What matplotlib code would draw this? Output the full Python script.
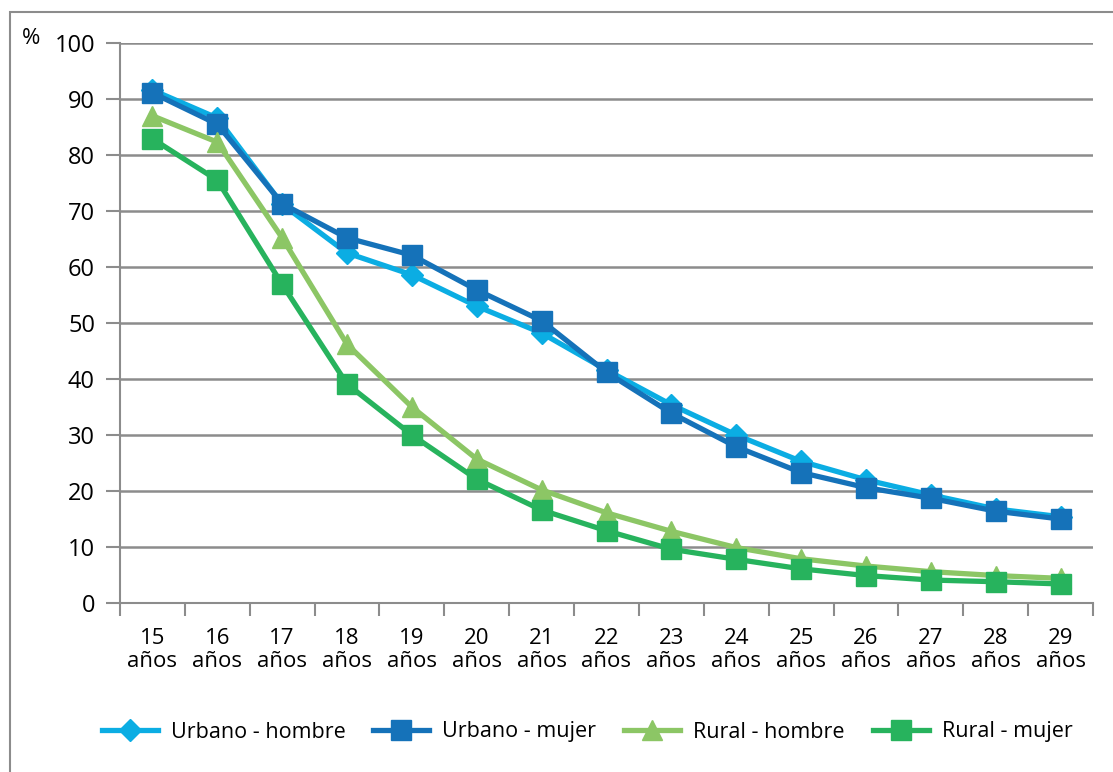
import matplotlib.pyplot as plt
from matplotlib.patches import Rectangle

plt.rcParams['font.family'] = ['Open Sans', 'DejaVu Sans']

# Data
edades = ["15\naños", "16\naños", "17\naños", "18\naños", "19\naños", "20\naños", "21\naños",
          "22\naños", "23\naños", "24\naños", "25\naños", "26\naños", "27\naños", "28\naños", "29\naños"]
urbano_hombre = [91.6, 86.6, 71.2, 62.5, 58.6, 53.0, 48.2, 41.6, 35.4, 30.0, 25.3, 22.0, 19.3, 16.8, 15.4]
urbano_mujer = [91.1, 85.5, 71.3, 65.2, 62.1, 55.9, 50.4, 41.2, 33.9, 27.9, 23.3, 20.6, 18.7, 16.4, 15.0]
rural_hombre = [87.0, 82.3, 65.2, 46.2, 35.0, 25.7, 20.2, 16.1, 12.8, 9.9, 7.9, 6.6, 5.6, 4.9, 4.4]
rural_mujer = [82.9, 75.5, 56.9, 39.1, 30.0, 22.1, 16.6, 12.9, 9.6, 7.8, 6.1, 4.9, 4.1, 3.8, 3.4]

fig = plt.figure(figsize=(11.13, 7.72), dpi=100)
W, H = 1113, 772

# outer frame
fig.patches.append(Rectangle((10 / W, -0.1), 1.2, 1.1 - 12 / H, transform=fig.transFigure,
                             fill=False, edgecolor='#8c8c8c', linewidth=1.5))

ax = fig.add_axes([120 / W, 1 - 603 / H, (1093 - 120) / W, (603 - 43) / H])
x = list(range(len(edades)))

ax.plot(x, urbano_hombre, color='#0BADE3', lw=3.8, marker='D', markersize=11,
        label='Urbano - hombre', zorder=3)
ax.plot(x, urbano_mujer, color='#1572B9', lw=3.8, marker='s', markersize=14,
        label='Urbano - mujer', zorder=4)
ax.plot(x, rural_hombre, color='#8CC665', lw=3.8, marker='^', markersize=14,
        label='Rural - hombre', zorder=5)
ax.plot(x, rural_mujer, color='#27B35D', lw=3.8, marker='s', markersize=14,
        label='Rural - mujer', zorder=6)

ax.set_xlim(-0.5, len(edades) - 0.5)
ax.set_ylim(0, 100)
ax.set_yticks(range(0, 101, 10))
ax.set_xticks(x)
ax.set_xticklabels(edades, fontsize=16, linespacing=1.15)
ax.set_xticks([i - 0.5 for i in range(len(edades) + 1)], minor=True)
ax.tick_params(axis='x', which='major', length=0, pad=18)
ax.tick_params(axis='x', which='minor', length=9, width=1.5, color='#8c8c8c')
ax.tick_params(axis='y', length=10, width=1.5, color='#8c8c8c', labelsize=17, pad=8)
ax.grid(axis='y', color='#8c8c8c', lw=1.8)
ax.set_axisbelow(True)
for s in ['top', 'right']:
    ax.spines[s].set_visible(False)
for s in ['left', 'bottom']:
    ax.spines[s].set_color('#8c8c8c')
    ax.spines[s].set_linewidth(1.5)

fig.text(22 / W, 1 - 38 / H, '%', fontsize=16, va='center', ha='left')

fig.legend(loc='center', bbox_to_anchor=(587 / W, 1 - 732 / H), ncol=4, frameon=False,
           fontsize=15.5, handlelength=2.6, columnspacing=1.3, handletextpad=0.6)

fig.savefig('out.png', dpi=100)
